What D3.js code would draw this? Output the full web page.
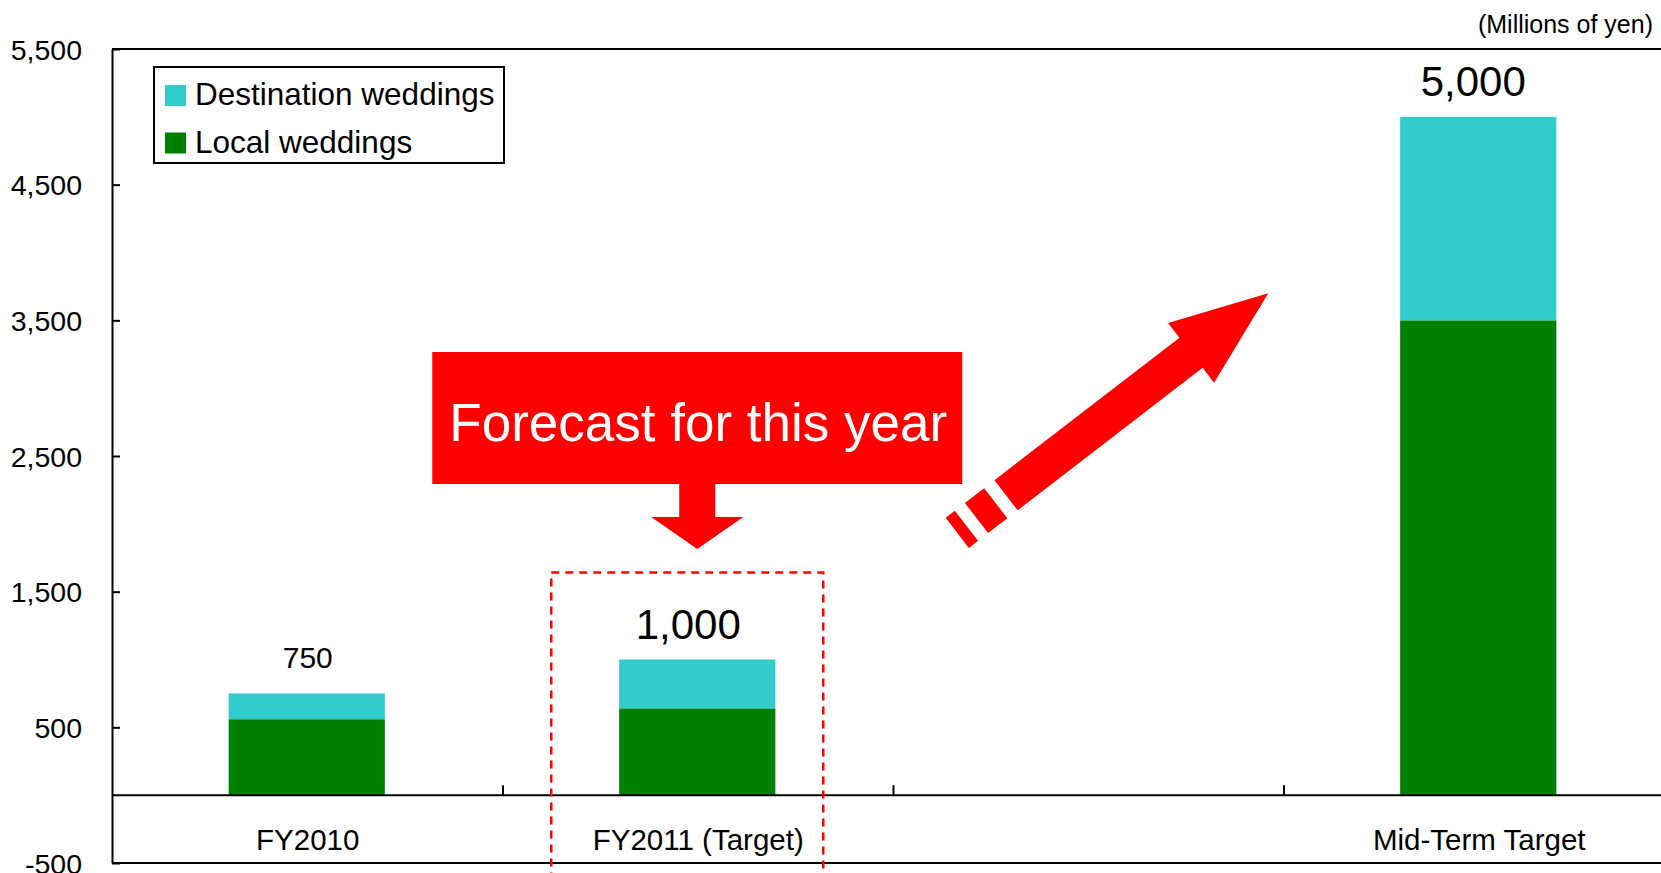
<!DOCTYPE html>
<html>
<head>
<meta charset="utf-8">
<title>Wedding sales</title>
<script src="https://cdn.jsdelivr.net/npm/d3@7"></script>
<style>
  html, body { margin: 0; padding: 0; background: #ffffff; }
  svg { display: block; font-family: "Liberation Sans", Arial, Helvetica, sans-serif; }
</style>
</head>
<body>
<svg id="chart" width="1661" height="873"></svg>
<script>
// Sales by segment, millions of yen
const categories = ["FY2010", "FY2011 (Target)", "", "Mid-Term Target"];
const localWeddings = [560, 640, null, 3500];
const destinationWeddings = [190, 360, null, 1500];
const yTicks = [-500, 500, 1500, 2500, 3500, 4500, 5500];
const seriesNames = ["Destination weddings", "Local weddings"];
const unitLabel = "(Millions of yen)";
const calloutText = "Forecast for this year";

const W = 1661, H = 873;
const plot = { left: 112, top: 49, bottom: 863, right: 1674 };
const colors = { local: "#008000", destination: "#33CCCC", accent: "#FF0000", ink: "#000000" };
const emphasised = new Set(["FY2011 (Target)", "Mid-Term Target"]);
const totalNudge = { "FY2010": 1, "FY2011 (Target)": -9, "Mid-Term Target": -5 };

const svg = d3.select("#chart");

const x = d3.scaleBand()
  .domain(categories)
  .range([plot.left - 0.5, plot.right - 0.5])
  .paddingInner(0.6)
  .paddingOuter(0.3);

const y = d3.scaleLinear()
  .domain([-500, 5500])
  .range([plot.bottom, plot.top]);

const rows = categories.map((c, i) => ({
  category: c,
  local: localWeddings[i],
  destination: destinationWeddings[i]
})).filter(d => d.local != null);

const stack = d3.stack().keys(["local", "destination"]);
const layers = stack(rows);

// stacked bars
svg.append("g")
  .selectAll("g")
  .data(layers)
  .join("g")
  .attr("fill", d => colors[d.key])
  .selectAll("rect")
  .data(d => d)
  .join("rect")
  .attr("x", d => x(d.data.category))
  .attr("width", x.bandwidth())
  .attr("y", d => y(d[1]))
  .attr("height", d => y(d[0]) - y(d[1]));

// totals above the bars (plain hyphen for negatives)
const fmt = v => d3.format(",")(v).replace("\u2212", "-");
svg.append("g")
  .selectAll("text")
  .data(rows)
  .join("text")
  .attr("x", d => x(d.category) + x.bandwidth() / 2 + totalNudge[d.category])
  .attr("y", d => y(d.local + d.destination) - (emphasised.has(d.category) ? 21 : 25))
  .attr("text-anchor", "middle")
  .attr("font-size", d => emphasised.has(d.category) ? 42 : 30)
  .attr("fill", colors.ink)
  .text(d => fmt(d.local + d.destination));

// frame: top and bottom borders, zero line
const frame = svg.append("g").attr("stroke", colors.ink).attr("stroke-width", 2);
frame.append("line").attr("x1", plot.left).attr("x2", W).attr("y1", y(5500)).attr("y2", y(5500));
frame.append("line").attr("x1", plot.left).attr("x2", W).attr("y1", y(-500)).attr("y2", y(-500));
frame.append("line").attr("x1", plot.left).attr("x2", W).attr("y1", y(0)).attr("y2", y(0));

// category separators on the zero line
const step = x.step();
const x0 = x.range()[0];
frame.selectAll("line.sep")
  .data(d3.range(1, categories.length))
  .join("line")
  .attr("class", "sep")
  .attr("x1", k => x0 + k * step + 1)
  .attr("x2", k => x0 + k * step + 1)
  .attr("y1", y(0))
  .attr("y2", y(0) - 10);

// category labels
svg.append("g")
  .selectAll("text")
  .data(categories.filter(c => c !== ""))
  .join("text")
  .attr("x", c => x(c) + x.bandwidth() / 2 + 1)
  .attr("y", y(0) + 55)
  .attr("text-anchor", "middle")
  .attr("font-size", 29.5)
  .attr("fill", colors.ink)
  .text(c => c);

// value axis
const yAxis = svg.append("g")
  .attr("transform", `translate(${plot.left},0)`)
  .call(d3.axisLeft(y)
    .tickValues(yTicks)
    .tickFormat(fmt)
    .tickSizeInner(-8)
    .tickSizeOuter(0)
    .tickPadding(30));
yAxis.select(".domain").attr("stroke", colors.ink).attr("stroke-width", 2);
yAxis.selectAll(".tick line").attr("stroke", colors.ink).attr("stroke-width", 2);
yAxis.selectAll(".tick text")
  .attr("font-size", 28.5)
  .attr("font-family", "Liberation Sans, Arial, sans-serif")
  .attr("fill", colors.ink)
  .attr("dy", "0.36em");

// unit label
svg.append("text")
  .attr("x", 1653)
  .attr("y", 33)
  .attr("text-anchor", "end")
  .attr("font-size", 25)
  .attr("fill", colors.ink)
  .text(unitLabel);

// legend
const legend = svg.append("g").attr("transform", "translate(154,67)");
legend.append("rect")
  .attr("width", 350).attr("height", 96)
  .attr("fill", "#ffffff").attr("stroke", colors.ink).attr("stroke-width", 2);
const legendItems = legend.selectAll("g.item")
  .data([
    { name: seriesNames[0], color: colors.destination },
    { name: seriesNames[1], color: colors.local }
  ])
  .join("g")
  .attr("class", "item")
  .attr("transform", (d, i) => `translate(0,${i * 47.5})`);
legendItems.append("rect")
  .attr("x", 11).attr("y", 18).attr("width", 21).attr("height", 21)
  .attr("fill", d => d.color);
legendItems.append("text")
  .attr("x", 41).attr("y", 38)
  .attr("font-size", 31.5)
  .attr("fill", colors.ink)
  .text(d => d.name);

// highlight around this year's target
const hlCat = categories[1];
const hlCx = x(hlCat) + x.bandwidth() / 2;
svg.append("rect")
  .attr("x", hlCx - 146)
  .attr("y", y(1000) - 87)
  .attr("width", 272)
  .attr("height", 400)
  .attr("fill", "none")
  .attr("stroke", colors.accent)
  .attr("stroke-width", 2.5)
  .attr("stroke-dasharray", "8 6");

// callout box with a downward arrow
const callout = svg.append("g").attr("transform", `translate(${hlCx},0)`);
callout.append("rect")
  .attr("x", -265).attr("y", 352).attr("width", 530).attr("height", 132)
  .attr("fill", colors.accent);
callout.append("path")
  .attr("d", "M-18,483 L18,483 L18,517 L46,517 L0,549 L-46,517 L-18,517 Z")
  .attr("fill", colors.accent);
callout.append("text")
  .attr("x", 1).attr("y", 441)
  .attr("text-anchor", "middle")
  .attr("font-size", 53)
  .attr("fill", "#ffffff")
  .text(calloutText);

// growth arrow toward the mid-term target
const growth = svg.append("g")
  .attr("transform", "translate(1268.3,293.3) rotate(-37.6)")
  .attr("fill", colors.accent);
growth.append("path")
  .attr("d", "M0,0 L-97.5,-37.7 L-97.5,-19 L-331,-19 L-331,19 L-97.5,19 L-97.5,37.7 Z");
growth.append("rect").attr("x", -368.3).attr("y", -19).attr("width", 24.3).attr("height", 38);
growth.append("rect").attr("x", -392.6).attr("y", -19).attr("width", 11.6).attr("height", 38);
</script>
</body>
</html>
